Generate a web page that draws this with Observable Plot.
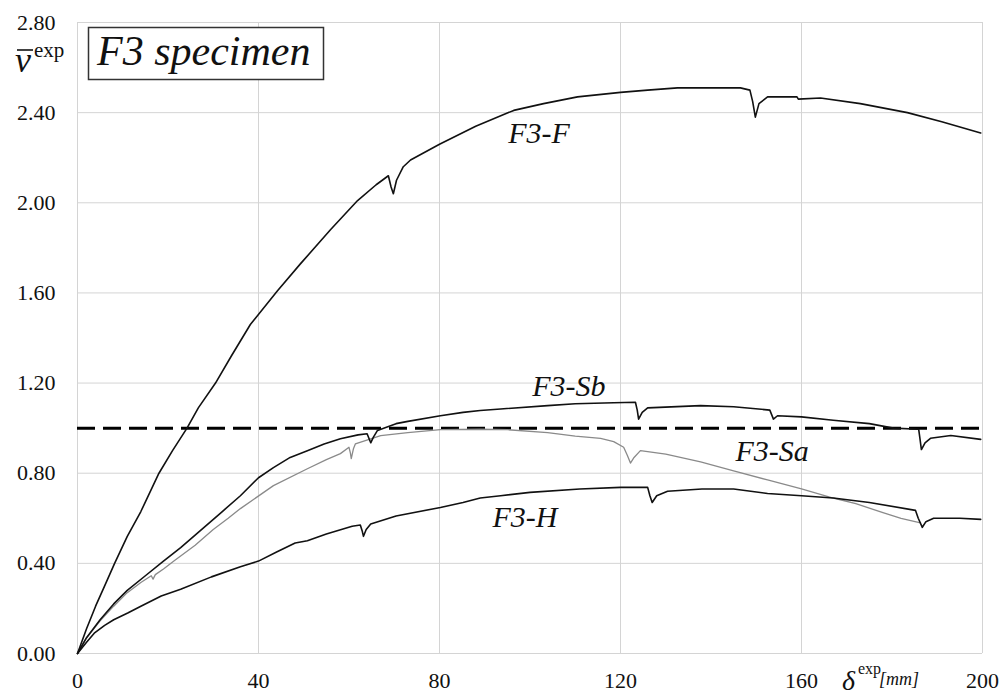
<!DOCTYPE html>
<html>
<head>
<meta charset="utf-8">
<script src="https://cdn.jsdelivr.net/npm/d3@7"></script>
<script src="https://cdn.jsdelivr.net/npm/@observablehq/plot@0.6"></script>
<style>
  html, body { margin: 0; padding: 0; background: #fff; }
  #chart svg { display: block; }
  #chart svg text { font-family: "Liberation Serif", "Times New Roman", serif !important; }
</style>
</head>
<body>
<div id="chart"></div>
<script>
// Axis ticks
const xTicks = [0, 40, 80, 120, 160, 200];
const yTicks = [0, 0.4, 0.8, 1.2, 1.6, 2.0, 2.4, 2.8];

// Reference level of the normalised load
const refLevel = [1.0];

// F3-F : deflection (mm) and normalised load
const dF = [0, 2, 4, 6, 8.2, 11, 14, 18, 21, 24.2, 26.7, 30.5, 34, 38.2, 44.2, 49.3, 55.9, 61.9, 66, 68.7, 69.3, 69.8, 70.5, 72, 73.6, 80, 88, 96.4, 103, 110.5, 120, 126, 132.6, 140, 146.5, 148.6, 149.2, 149.8, 150.6, 152.5, 157.6, 159, 159.3, 164.2, 173, 183.4, 191, 199.6];
const vF = [0, 0.11, 0.21, 0.30, 0.40, 0.52, 0.63, 0.80, 0.90, 1.0, 1.09, 1.20, 1.32, 1.46, 1.61, 1.73, 1.88, 2.01, 2.08, 2.12, 2.07, 2.04, 2.10, 2.16, 2.19, 2.26, 2.34, 2.41, 2.44, 2.47, 2.49, 2.50, 2.51, 2.51, 2.51, 2.50, 2.45, 2.38, 2.44, 2.47, 2.47, 2.47, 2.46, 2.465, 2.44, 2.40, 2.36, 2.31];

// F3-Sb
const dSb = [0, 2, 5, 8, 11, 15, 19, 22.8, 27.4, 32, 36, 40, 43.3, 47, 50.8, 54.5, 58.1, 62, 64, 64.4, 64.8, 65.4, 66.3, 70.4, 73, 80.2, 85.2, 89, 93.5, 103.9, 110, 118.5, 123.3, 123.7, 124, 124.8, 126, 137.7, 145, 153, 153.4, 153.8, 154.7, 160, 167, 175, 180.3, 185.9, 186.2, 186.5, 187.3, 188.5, 193, 199.6];
const vSb = [0, 0.07, 0.15, 0.22, 0.28, 0.345, 0.41, 0.47, 0.55, 0.63, 0.70, 0.78, 0.825, 0.87, 0.90, 0.93, 0.953, 0.97, 0.975, 0.955, 0.935, 0.96, 0.99, 1.02, 1.03, 1.055, 1.07, 1.078, 1.085, 1.10, 1.108, 1.113, 1.115, 1.08, 1.04, 1.07, 1.09, 1.10, 1.095, 1.08, 1.06, 1.04, 1.055, 1.05, 1.035, 1.02, 1.00, 0.995, 0.95, 0.905, 0.935, 0.955, 0.967, 0.95];

// F3-Sa
const dSa = [0, 2, 5, 8, 11, 14, 16.3, 16.7, 17.2, 19, 21.3, 26, 30, 33.3, 36, 43.3, 50.8, 55, 58.1, 60, 60.3, 60.5, 61, 61.4, 67, 73, 80.2, 89, 95, 103.9, 110, 115.6, 118.5, 120.7, 121.5, 122.2, 123, 124.4, 130, 137.7, 145, 152.5, 160, 167, 172, 178, 182, 186.3];
const vSa = [0, 0.07, 0.145, 0.21, 0.27, 0.315, 0.345, 0.33, 0.35, 0.375, 0.41, 0.48, 0.55, 0.60, 0.643, 0.745, 0.82, 0.86, 0.887, 0.915, 0.89, 0.865, 0.91, 0.93, 0.967, 0.98, 0.993, 0.995, 0.993, 0.98, 0.965, 0.955, 0.94, 0.915, 0.88, 0.845, 0.87, 0.90, 0.885, 0.85, 0.81, 0.77, 0.73, 0.69, 0.665, 0.625, 0.60, 0.58];

// F3-H
const dH = [0, 2, 3.7, 6, 8, 11.1, 14, 18.5, 22.8, 29.6, 36, 40, 44, 48.1, 50.8, 55, 60.7, 62.5, 62.9, 63.2, 63.8, 64.8, 70.4, 80.2, 85.2, 89, 93.5, 100, 111, 120, 126, 126.5, 127, 128, 130.4, 138, 145, 152.5, 160, 167, 175, 185.2, 185.8, 186.7, 187.5, 189.2, 195, 199.6];
const vH = [0, 0.05, 0.09, 0.125, 0.15, 0.18, 0.21, 0.255, 0.285, 0.34, 0.385, 0.41, 0.45, 0.49, 0.50, 0.53, 0.565, 0.57, 0.545, 0.52, 0.55, 0.575, 0.61, 0.648, 0.67, 0.69, 0.70, 0.715, 0.73, 0.737, 0.737, 0.70, 0.67, 0.70, 0.72, 0.73, 0.73, 0.71, 0.70, 0.69, 0.67, 0.635, 0.60, 0.56, 0.585, 0.60, 0.60, 0.595];

// Curve names and where their labels sit
const curveNames = ["F3-F", "F3-Sb", "F3-Sa", "F3-H"];
const labelD = [95.2, 100.5, 145.4, 91.7];
const labelV = [2.31, 1.184, 0.896, 0.603];

const toRows = (d, v) => d.map((x, i) => ({x, y: v[i]}));
const labels = curveNames.map((name, i) => ({name, x: labelD[i], y: labelV[i]}));

const serif = "Liberation Serif";
const W = 1005, H = 698;

const plot = Plot.plot({
  width: W,
  height: H,
  marginLeft: 77,
  marginRight: 23,
  marginTop: 22,
  marginBottom: 45,
  style: {background: "#fff", overflow: "visible"},
  x: {domain: [0, 200]},
  y: {domain: [0, 2.8]},
  marks: [
    Plot.gridX(xTicks, {stroke: "#d4d4d4", strokeOpacity: 1, strokeWidth: 1}),
    Plot.gridY(yTicks, {stroke: "#d4d4d4", strokeOpacity: 1, strokeWidth: 1}),
    Plot.axisX(xTicks, {tickSize: 0, tickPadding: 19, fontSize: 22, fill: "#111", tickFormat: d3.format("d"), label: null}),
    Plot.axisY(yTicks, {tickSize: 0, tickPadding: 22, fontSize: 22, fill: "#111", tickFormat: d3.format(".2f"), label: null}),
    Plot.ruleY(refLevel, {stroke: "#000", strokeWidth: 3, strokeDasharray: "18,8"}),
    Plot.line(toRows(dSa, vSa), {x: "x", y: "y", stroke: "#8a8a8a", strokeWidth: 1.3, curve: "linear"}),
    Plot.line(toRows(dF, vF), {x: "x", y: "y", stroke: "#111", strokeWidth: 1.6, curve: "linear"}),
    Plot.line(toRows(dSb, vSb), {x: "x", y: "y", stroke: "#111", strokeWidth: 1.6, curve: "linear"}),
    Plot.line(toRows(dH, vH), {x: "x", y: "y", stroke: "#111", strokeWidth: 1.6, curve: "linear"}),
    Plot.text(labels, {x: "x", y: "y", text: "name", textAnchor: "start", lineAnchor: "middle",
      fontSize: 30, fontStyle: "italic", fontFamily: serif, fill: "#111"})
  ]
});

const svg = d3.select(plot);

// Serif face for every text, tick labels included
svg.selectAll("text").attr("font-family", serif).style("font-family", serif);

// Specimen title box in the upper-left corner of the frame
const box = svg.append("g").attr("text-anchor", "start");
box.append("rect")
  .attr("x", 88.5).attr("y", 27.5).attr("width", 235).attr("height", 52)
  .attr("fill", "#fff").attr("stroke", "#333").attr("stroke-width", 1.5);
box.append("text")
  .attr("x", 97).attr("y", 65)
  .attr("font-family", serif).attr("font-style", "italic").attr("font-size", 42)
  .attr("fill", "#111").text("F3 specimen");

// Y axis title: v-bar with "exp" superscript
const yt = svg.append("g").attr("fill", "#111").attr("font-family", serif).attr("text-anchor", "start");
yt.append("text").attr("x", 15).attr("y", 72)
  .attr("font-style", "italic").attr("font-size", 36).text("v");
yt.append("line").attr("x1", 17).attr("x2", 33).attr("y1", 50).attr("y2", 50)
  .attr("stroke", "#111").attr("stroke-width", 1.6);
yt.append("text").attr("x", 34).attr("y", 57)
  .attr("font-size", 21).text("exp");

// X axis title: delta with "exp" superscript and unit
const xt = svg.append("g").attr("fill", "#111").attr("font-family", serif).attr("text-anchor", "start");
xt.append("text").attr("x", 842).attr("y", 690)
  .attr("font-style", "italic").attr("font-size", 28).text("δ");
xt.append("text").attr("x", 858).attr("y", 674)
  .attr("font-size", 16).text("exp");
xt.append("text").attr("x", 879).attr("y", 685)
  .attr("font-style", "italic").attr("font-size", 18).text("[mm]");

document.getElementById("chart").appendChild(plot);
</script>
</body>
</html>
